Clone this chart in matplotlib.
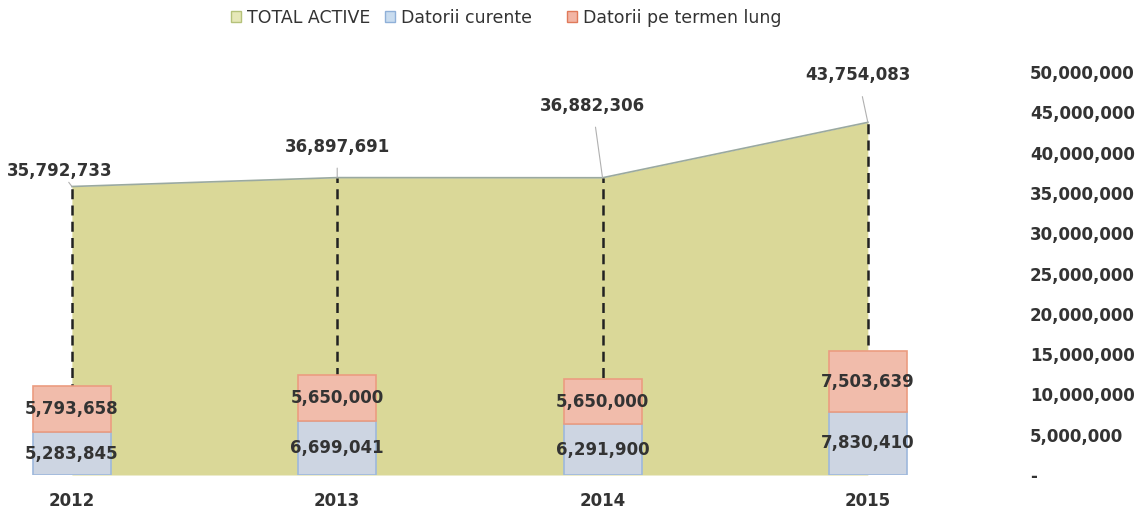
import numpy as np
import matplotlib.pyplot as plt
from matplotlib.patches import Patch
from matplotlib.ticker import FuncFormatter

years = ['2012', '2013', '2014', '2015']
total_active = [35792733, 36897691, 36882306, 43754083]
datorii_curente = [5283845, 6699041, 6291900, 7830410]
datorii_termen_lung = [5793658, 5650000, 5650000, 7503639]
series_names = ['TOTAL ACTIVE', 'Datorii curente', 'Datorii pe termen lung']

# offsets (pixels) of the area labels from their points
label_offsets = [(-12, 16), (0, 31), (-10, 72), (-10, 47)]

area_color = '#dad898'
blue_fill, blue_edge = '#cdd5e2', '#9db8dc'
pink_fill, pink_edge = '#f1bcab', '#eb9c80'
txt = '#333333'

fig = plt.figure(figsize=(11.45, 5.14), dpi=100)
ax = fig.add_axes([0, 39/514, 1005/1145, 403/514])

x = np.arange(len(years))

ax.fill_between(x, total_active, 0, color=area_color, zorder=1, lw=0)
ax.plot(x, total_active, color='#9aa9a0', lw=1.2, zorder=2)

# drop lines
ax.vlines(x, 0, total_active, colors='#222222', linestyles=(0, (4, 2.5)), lw=1.8, zorder=3)

w = 0.294
ax.bar(x, datorii_curente, w, color=blue_fill, edgecolor=blue_edge, lw=1.2, zorder=4)
ax.bar(x, datorii_termen_lung, w, bottom=datorii_curente, color=pink_fill,
       edgecolor=pink_edge, lw=1.2, zorder=4)

for i in range(len(years)):
    ax.annotate(f'{total_active[i]:,}', xy=(x[i], total_active[i]),
                xytext=label_offsets[i], textcoords='offset pixels',
                ha='center', va='center', fontsize=12, fontweight='bold', color=txt,
                arrowprops=dict(arrowstyle='-', color='#b0b0b0', lw=0.8,
                                shrinkA=7, shrinkB=0), zorder=5)
    ax.text(x[i], datorii_curente[i] / 2, f'{datorii_curente[i]:,}', ha='center',
            va='center', fontsize=12, fontweight='bold', color=txt, zorder=6)
    ax.text(x[i], datorii_curente[i] + datorii_termen_lung[i] / 2,
            f'{datorii_termen_lung[i]:,}', ha='center', va='center',
            fontsize=12, fontweight='bold', color=txt, zorder=6)

ax.set_xlim(-0.271, 3.517)
ax.set_ylim(0, 50000000)
ax.set_yticks(np.arange(0, 50000001, 5000000))
ax.yaxis.set_major_formatter(FuncFormatter(lambda v, p: '-' if v == 0 else f'{int(v):,}'))
ax.yaxis.tick_right()
ax.tick_params(axis='y', length=0, pad=18, labelsize=12, labelcolor=txt)
for lab in ax.get_yticklabels():
    lab.set_fontweight('bold')
ax.set_xticks(x)
ax.set_xticklabels(years, fontweight='bold', fontsize=12, color=txt)
ax.tick_params(axis='x', length=0, pad=12)
for s in ax.spines.values():
    s.set_visible(False)
ax.patch.set_alpha(0)

# legend: one entry per legend so the spacing follows the original
handles = [Patch(facecolor='#e6e8b8', edgecolor='#b5c27a', label=series_names[0]),
           Patch(facecolor='#c9dcef', edgecolor='#8fb0d8', label=series_names[1]),
           Patch(facecolor='#f2b5a5', edgecolor='#e07a5a', label=series_names[2])]
for h, left in zip(handles, [231, 385, 567]):
    fig.legend(handles=[h], loc='center left', bbox_to_anchor=(left/1145, 1 - 18/514),
               frameon=False, fontsize=12.5, handlelength=0.6, handleheight=0.6,
               handletextpad=0.3, borderaxespad=0, borderpad=0, labelcolor=txt)

fig.savefig('out.png', dpi=100)
